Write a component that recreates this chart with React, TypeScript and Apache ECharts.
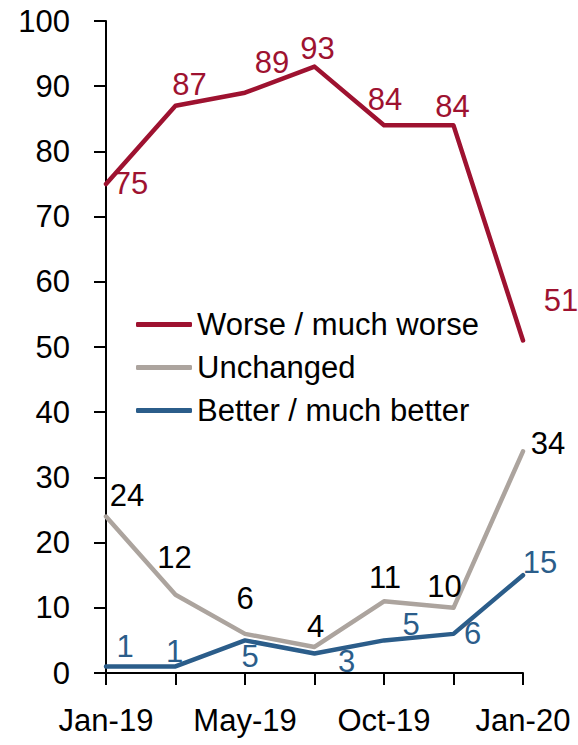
import React, { useEffect, useRef } from "react";
import * as echarts from "echarts";

const categories = ["Jan-19", "Mar-19", "May-19", "Jul-19", "Oct-19", "Dec-19", "Jan-20"];
const worse = [75, 87, 89, 93, 84, 84, 51];
const unchanged = [24, 12, 6, 4, 11, 10, 34];
const better = [1, 1, 5, 3, 5, 6, 15];
const yTicks = { min: 0, max: 100, interval: 10 };

// label offsets (pixels) relative to each point, purely presentational
const worseLabelOffsets = [[25, -1], [14, -21], [27, -30], [3, -18], [1, -26], [-1, -19], [38, -40]];
const unchangedLabelOffsets = [[21, -21], [-1, -37], [0, -35], [1, -20], [1, -24], [-9, -21], [25, -8]];
const betterLabelOffsets = [[19, -20], [-1, -15], [5, 16], [32, 8], [27, -16], [19, 0], [17, -13]];

const RED = "#9e1230";
const GREY = "#aca49e";
const BLUE = "#2b5d8a";
const FONT = "Liberation Sans";
const FS = 31;

function makeSeries(name: string, values: number[], offsets: number[][], color: string, labelColor: string) {
  return {
    name,
    type: "line",
    symbol: "circle",
    symbolSize: 2,
    itemStyle: { color },
    lineStyle: { color, width: 4.5, cap: "round", join: "round" },
    label: { show: true, position: "inside", color: labelColor, fontSize: FS, fontFamily: FONT },
    data: values.map((v, i) => ({ value: v, label: { offset: offsets[i] } })),
  };
}

export default function App() {
  const ref = useRef<HTMLDivElement>(null);
  useEffect(() => {
    if (!ref.current) return;
    const chart = echarts.init(ref.current, undefined, { renderer: "svg" });
    chart.setOption({
      animation: false,
      textStyle: { fontFamily: FONT },
      grid: { left: 106, right: 55, top: 21, bottom: 72, containLabel: false },
      legend: {
        orient: "vertical",
        left: 131,
        top: 304,
        icon: "roundRect",
        itemWidth: 56,
        itemHeight: 5,
        itemGap: 12,
        textStyle: { fontSize: FS, color: "#000", fontFamily: FONT, padding: [0, 0, 0, 0] },
        data: ["Worse / much worse", "Unchanged", "Better / much better"],
      },
      xAxis: {
        type: "category",
        data: categories,
        boundaryGap: false,
        axisLine: { lineStyle: { color: "#000", width: 2 } },
        axisTick: { show: true, interval: 0, length: 12, lineStyle: { color: "#000", width: 2 } },
        axisLabel: { interval: 1, fontSize: FS, color: "#000", margin: 32, fontFamily: FONT },
        splitLine: { show: false },
      },
      yAxis: {
        type: "value",
        min: yTicks.min,
        max: yTicks.max,
        interval: yTicks.interval,
        axisLine: { show: true, lineStyle: { color: "#000", width: 2 } },
        axisTick: { show: true, length: 12, lineStyle: { color: "#000", width: 2 } },
        axisLabel: { fontSize: FS, color: "#000", margin: 36, fontFamily: FONT },
        splitLine: { show: false },
      },
      series: [
        makeSeries("Worse / much worse", worse, worseLabelOffsets, RED, RED),
        makeSeries("Unchanged", unchanged, unchangedLabelOffsets, GREY, "#000"),
        makeSeries("Better / much better", better, betterLabelOffsets, BLUE, BLUE),
      ],
    });
    return () => chart.dispose();
  }, []);
  return (
    <div
      ref={ref}
      style={{ position: "fixed", left: 0, top: 0, width: 578, height: 745, background: "#fff" }}
    />
  );
}
